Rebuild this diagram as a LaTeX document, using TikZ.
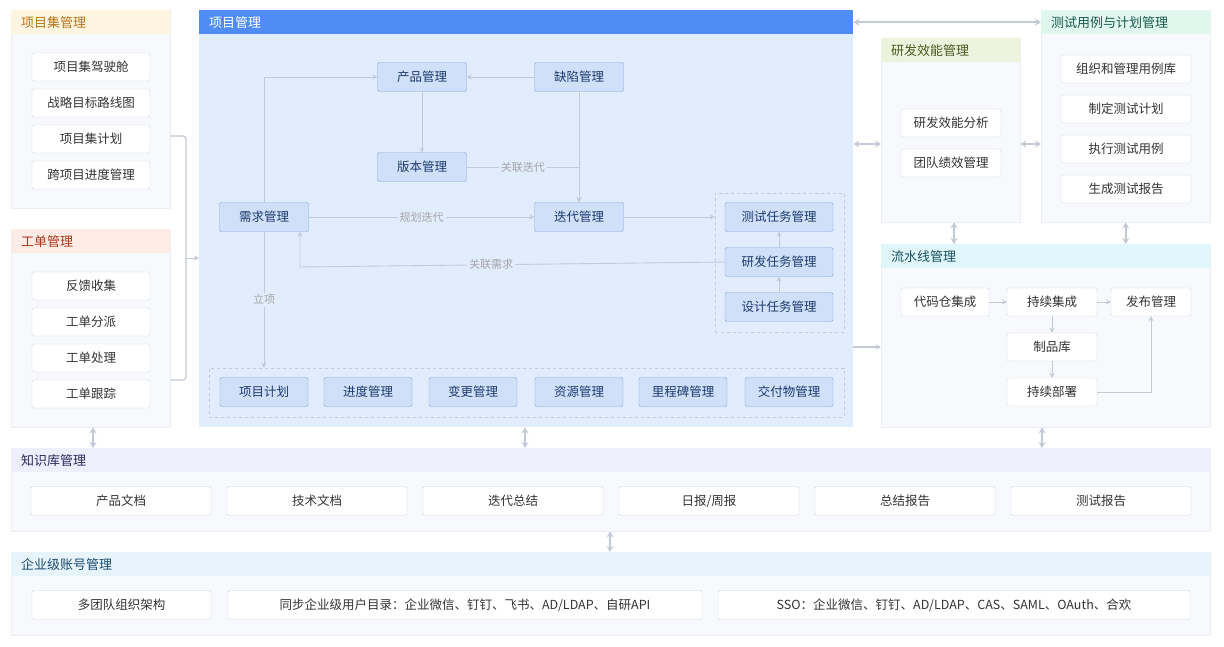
\documentclass[tikz,border=0pt]{standalone}
\usepackage{fontspec}
\setmainfont{Noto Sans CJK SC}
\usetikzlibrary{positioning,arrows.meta}
\definecolor{lineg}{HTML}{C3CAD6}
\definecolor{panelbg}{HTML}{F8F9FC}
\definecolor{panelln}{HTML}{ECEEF3}
\definecolor{pmbg}{HTML}{E1ECFC}
\definecolor{pmhead}{HTML}{4F8DF5}
\definecolor{bluefill}{HTML}{CFE0F8}
\definecolor{blueline}{HTML}{86A9E0}
\definecolor{bluetext}{HTML}{1E3A6E}
\definecolor{psbg}{HTML}{FDF5E0}\definecolor{pstx}{HTML}{B8741A}
\definecolor{tkbg}{HTML}{FDEBE6}\definecolor{tktx}{HTML}{A8381A}
\definecolor{effbg}{HTML}{EEF3DD}\definecolor{efftx}{HTML}{4A5A20}
\definecolor{tcbg}{HTML}{E0F7EE}\definecolor{tctx}{HTML}{1A5A4E}
\definecolor{pibg}{HTML}{DFF7FA}\definecolor{pitx}{HTML}{1A4E5E}
\definecolor{kbbg}{HTML}{EEEEFC}\definecolor{kbtx}{HTML}{2A2A5E}
\definecolor{acbg}{HTML}{E8F4FB}\definecolor{actx}{HTML}{1A4A6E}
\newcommand{\panelbox}[8]{%
  \node[panel, minimum width=#4pt, minimum height=#5pt, anchor=north west] (#1) at (#2,#3) {};
  \node[head, fill=#6, text=#7, text width=#4pt, anchor=north west] (#1h) at (#2,#3) {\hspace*{10pt}#8};
}
\begin{document}
\begin{tikzpicture}[x=1pt,y=-1pt,font=\fontsize{12.5}{14}\selectfont]
\tikzset{
    panel/.style = {rectangle, draw=panelln, fill=panelbg, inner sep=0pt},
    head/.style = {rectangle, minimum height=24pt, inner sep=0pt, align=left, font=\fontsize{13}{15}\selectfont},
    item/.style = {rectangle, rounded corners=1.5pt, draw=lineg!80, fill=white, minimum height=28pt, inner sep=0pt, text=black!80},
    bluenode/.style = {rectangle, rounded corners=1.5pt, draw=blueline, fill=bluefill, minimum height=29pt, minimum width=89pt, inner sep=0pt, text=bluetext},
    arrow/.style = {lineg, line width=0.9pt, -{Stealth[length=5pt,width=5pt]}},
    darrow/.style = {lineg, line width=1.6pt, {Stealth[length=6pt,width=7pt]}-{Stealth[length=6pt,width=7pt]}},
    lbl/.style = {fill=pmbg, text=black!35, font=\fontsize{11}{13}\selectfont, inner sep=2pt},
    grp/.style = {rectangle, draw=lineg, dashed, inner sep=0pt}
}
\useasboundingbox (0,0) rectangle (1224,646);
\fill[white] (0,0) rectangle (1224,646);

% left panels
\panelbox{pjset}{11}{10}{159}{198}{psbg}{pstx}{项目集管理}
\panelbox{ticket}{11}{229}{159}{198}{tkbg}{tktx}{工单管理}
\foreach \t [count=\i] in {项目集驾驶舱,战略目标路线图,项目集计划,跨项目进度管理}
  \node[item, minimum width=118pt] (ps\i) at (91,31+36*\i) {\t};
\foreach \t [count=\i] in {反馈收集,工单分派,工单处理,工单跟踪}
  \node[item, minimum width=118pt] (tk\i) at (91,250+36*\i) {\t};

% project management
\node[rectangle, fill=pmbg, minimum width=654pt, minimum height=417pt, anchor=north west, inner sep=0pt] (pm) at (199,10) {};
\node[head, fill=pmhead, text=white, text width=654pt, anchor=north west] (pmh) at (199,10) {\hspace*{10pt}项目管理};
\node[grp, minimum width=129pt, minimum height=139pt] (taskgrp) at (779.5,262.5) {};
\node[grp, minimum width=635pt, minimum height=49pt] (plangrp) at (526.5,392.5) {};

\node[bluenode] (product) at (422,77) {产品管理};
\node[bluenode] (defect) at (579,77) {缺陷管理};
\node[bluenode] (version) at (422,167) {版本管理};
\node[bluenode] (req) at (264,217) {需求管理};
\node[bluenode] (iter) at (579,217) {迭代管理};
\node[bluenode, minimum width=108pt] (testtask) at (779,217) {测试任务管理};
\node[bluenode, minimum width=108pt] (devtask) at (779,262) {研发任务管理};
\node[bluenode, minimum width=108pt] (designtask) at (779,307) {设计任务管理};
\foreach \t/\x [count=\i] in {项目计划/264,进度管理/368,变更管理/473,资源管理/579,里程碑管理/683,交付物管理/789}
  \node[bluenode, minimum width=88pt] (plan\i) at (\x,392) {\t};

\coordinate (reqtop) at (264,77);
\coordinate (vercorner) at (579,167);
\coordinate (devcorner) at (300,267);
\draw[arrow] (defect) -- (product);
\draw[arrow] (product) -- (version);
\draw[arrow] (req.north) -- (reqtop) -- (product);
\draw[arrow] (version) -- (vercorner) node[lbl, pos=0.5] {关联迭代} -- (iter);
\draw[arrow] (defect) -- (iter);
\draw[arrow] (req) -- node[lbl] {规划迭代} (iter);
\draw[arrow] (iter) -- (taskgrp.west |- iter);
\draw[arrow] (devtask.west) -- (devcorner) node[lbl, pos=0.55] {关联需求} -- (devcorner |- req.south);
\draw[arrow] (req) -- node[lbl] {立项} (req |- plangrp.north);
\draw[arrow] (designtask) -- (devtask);
\draw[arrow] (devtask) -- (testtask);

% left connector
\coordinate (lj1) at (186,136);
\coordinate (lj2) at (186,380);
\draw[lineg, line width=1.2pt, rounded corners=3pt] (pjset.east |- lj1) -- (lj1) -- (lj2) -- (ticket.east |- lj2);
\draw[arrow] (186,258) -- (pm.west |- 0,258);

% right panels
\panelbox{eff}{881}{38}{139}{184}{effbg}{efftx}{研发效能管理}
\panelbox{tcase}{1041}{10}{169}{212}{tcbg}{tctx}{测试用例与计划管理}
\panelbox{pipe}{881}{244}{329}{183}{pibg}{pitx}{流水线管理}
\node[item, minimum width=100pt] (eff1) at (951,123) {研发效能分析};
\node[item, minimum width=100pt] (eff2) at (951,163) {团队绩效管理};
\foreach \t [count=\i] in {组织和管理用例库,制定测试计划,执行测试用例,生成测试报告}
  \node[item, minimum width=130pt] (tc\i) at (1126,29+40*\i) {\t};
\node[item, minimum width=88pt] (repo) at (945,302) {代码仓集成};
\node[item, minimum width=90pt] (ci) at (1052,302) {持续集成};
\node[item, minimum width=80pt] (release) at (1151,302) {发布管理};
\node[item, minimum width=90pt] (artifact) at (1052,347) {制品库};
\node[item, minimum width=90pt] (cd) at (1052,392) {持续部署};
\draw[arrow] (repo) -- (ci);
\draw[arrow] (ci) -- (release);
\draw[arrow] (ci) -- (artifact);
\draw[arrow] (artifact) -- (cd);
\draw[arrow] (cd.east) -| (release.south);

\draw[darrow] (pmh.east) -- (tcase.west |- pmh.east);
\draw[darrow] (pm.east |- 0,144) -- (eff.west |- 0,144);
\draw[darrow] (eff.east |- 0,144) -- (tcase.west |- 0,144);
\draw[arrow, line width=1.3pt] (pm.east |- 0,347) -- (pipe.west |- 0,347);
\draw[darrow] (eff.south -| 954,0) -- (pipe.north -| 954,0);
\draw[darrow] (tcase.south) -- (pipe.north -| tcase.south);

% bottom panels
\panelbox{kb}{11}{448}{1199}{83}{kbbg}{kbtx}{知识库管理}
\panelbox{acct}{11}{552}{1199}{83}{acbg}{actx}{企业级账号管理}
\foreach \t [count=\i] in {产品文档,技术文档,迭代总结,日报/周报,总结报告,测试报告}
  \node[item, minimum width=180pt, minimum height=29pt] (kb\i) at (121+196*\i-196,501) {\t};
\node[item, minimum width=179pt, minimum height=29pt] (ac1) at (121.5,605) {多团队组织架构};
\node[item, minimum width=474pt, minimum height=29pt] (ac2) at (465,605) {同步企业级用户目录：企业微信、钉钉、飞书、AD/LDAP、自研API};
\node[item, minimum width=472pt, minimum height=29pt] (ac3) at (954,605) {SSO：企业微信、钉钉、AD/LDAP、CAS、SAML、OAuth、合欢};

\draw[darrow] (ticket.south -| 93,0) -- (kb.north -| 93,0);
\draw[darrow] (pm.south -| 525,0) -- (kb.north -| 525,0);
\draw[darrow] (pipe.south -| 1042,0) -- (kb.north -| 1042,0);
\draw[darrow] (kb.south -| 610,0) -- (acct.north -| 610,0);
\end{tikzpicture}
\end{document}
